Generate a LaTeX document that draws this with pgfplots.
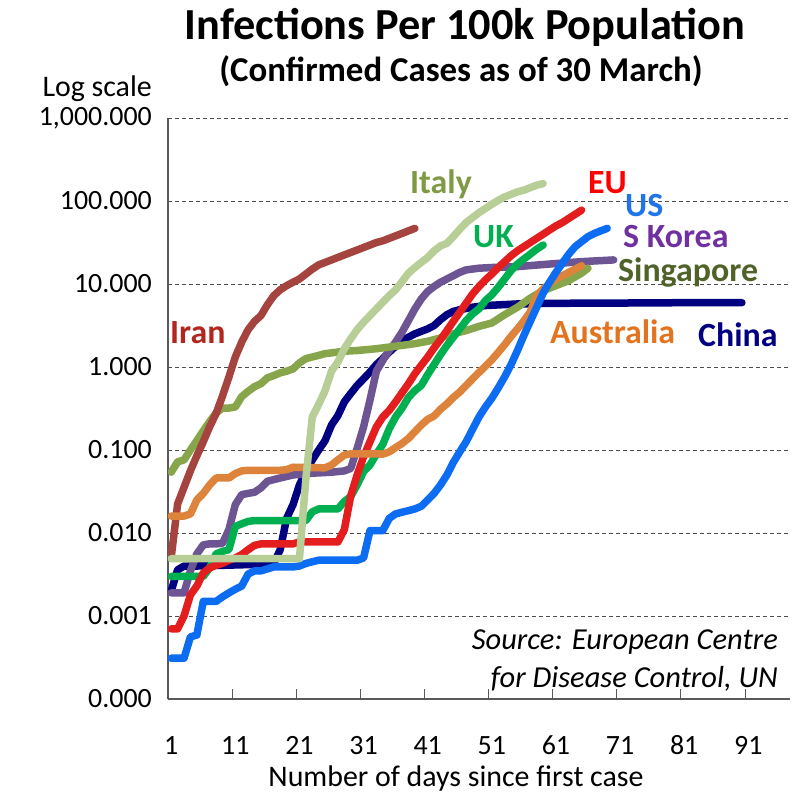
\documentclass[border=0pt]{standalone}
\usepackage{fontspec}
\setmainfont{Carlito}
\usepackage{pgfplots}
\pgfplotsset{compat=1.18}
\definecolor{cIran}{HTML}{A5443F}
\definecolor{lIran}{HTML}{B3261E}
\definecolor{cSing}{HTML}{87A64B}
\definecolor{lSing}{HTML}{4F6228}
\definecolor{cItaly}{HTML}{B7CE97}
\definecolor{lItaly}{HTML}{7E9A43}
\definecolor{cChina}{HTML}{000080}
\definecolor{cKorea}{HTML}{6D5593}
\definecolor{lKorea}{HTML}{7030A0}
\definecolor{cAus}{HTML}{DD833B}
\definecolor{lAus}{HTML}{E3731F}
\definecolor{cUK}{HTML}{00B050}
\definecolor{cEU}{HTML}{E41E1E}
\definecolor{lEU}{HTML}{FF0000}
\definecolor{cUS}{HTML}{0C6CF2}
\definecolor{lUS}{HTML}{1E74E8}
\begin{document}
\begin{tikzpicture}
\useasboundingbox (-168bp,-95bp) rectangle (624bp,699bp);
\begin{axis}[
  at={(0,0)}, anchor=south west,
  width=622bp, height=581bp, scale only axis,
  xmin=0.5, xmax=97.5,
  ymode=log, ymin=1e-4, ymax=1e3,
  axis lines*=left,
  axis line style={-, black!65, line width=1.2bp},
  xtick={1,11,...,91},
  xticklabels={1,11,21,31,41,51,61,71,81,91},
  minor xtick={10.5,20.5,...,90.5},
  tick align=inside,
  major tick length=0pt, minor tick length=10bp,
  minor tick style={black!65, line width=1bp},
  ytick={1e-4,1e-3,1e-2,1e-1,1,10,100,1000},
  yticklabels={0.000,0.001,0.010,0.100,1.000,10.000,100.000,{1,000.000}},
  yminorticks=false,
  ymajorgrids,
  major grid style={dash pattern=on 4bp off 3bp, black!70, line width=0.9bp},
  yticklabel style={font=\fontsize{28}{30}\selectfont, anchor=east, inner sep=0pt, xshift=-16bp},
  xticklabel style={font=\fontsize{28}{30}\selectfont, anchor=base, inner sep=0pt, yshift=-55bp},
  every axis plot/.append style={line width=7.5bp, line join=round, line cap=round},
]
% China
\addplot[color=cChina] coordinates {(1,0.0020)(2,0.0036)(3,0.0040)(5,0.0040)(10,0.0041)(15,0.0042)(17,0.0043)(18,0.0063)(19,0.015)(20,0.022)(21,0.038)(22,0.055)(23,0.076)(24,0.10)(25,0.13)(26,0.20)(27,0.26)(28,0.38)(29,0.48)(30,0.60)(31,0.72)(32,0.87)(33,1.07)(34,1.26)(35,1.51)(36,1.78)(37,2.04)(38,2.29)(39,2.51)(40,2.69)(41,2.88)(42,3.16)(43,3.72)(44,4.27)(45,4.68)(46,4.90)(48,5.25)(50,5.50)(55,5.75)(60,5.85)(70,5.89)(80,5.95)(90,5.96)};
% S Korea
\addplot[color=cKorea] coordinates {(1,0.0019)(2,0.0019)(3,0.0019)(4,0.0035)(5,0.0056)(6,0.0072)(7,0.0074)(8,0.0074)(9,0.0075)(10,0.011)(11,0.022)(12,0.029)(13,0.030)(14,0.031)(15,0.035)(16,0.042)(17,0.044)(18,0.046)(19,0.048)(20,0.050)(22,0.052)(24,0.053)(26,0.054)(28,0.056)(29,0.060)(30,0.105)(31,0.19)(32,0.40)(33,0.89)(34,1.20)(35,1.58)(36,2.00)(37,2.63)(38,3.63)(39,5.01)(40,6.61)(41,8.13)(42,9.33)(43,10.5)(44,11.5)(45,12.6)(46,13.8)(47,14.8)(49,15.5)(51,15.8)(55,16.2)(60,17.4)(65,18.6)(70,19.5)};
% Singapore
\addplot[color=cSing] coordinates {(1,0.054)(2,0.072)(3,0.076)(4,0.10)(5,0.13)(6,0.17)(7,0.22)(8,0.28)(9,0.32)(10,0.32)(11,0.33)(12,0.44)(13,0.51)(14,0.58)(15,0.63)(16,0.74)(17,0.79)(18,0.85)(19,0.89)(20,0.95)(21,1.12)(22,1.26)(23,1.32)(24,1.38)(25,1.45)(26,1.48)(28,1.55)(30,1.58)(33,1.66)(36,1.78)(39,1.91)(41,2.04)(43,2.24)(45,2.51)(47,2.75)(49,3.09)(51,3.39)(53,4.27)(55,5.25)(57,6.76)(59,8.32)(61,9.55)(63,11.0)(65,13.5)(66,15.5)};
% Iran
\addplot[color=cIran] coordinates {(1,0.0051)(2,0.0224)(3,0.0355)(4,0.0562)(5,0.0851)(6,0.126)(7,0.191)(8,0.275)(9,0.447)(10,0.759)(11,1.32)(12,2.00)(13,2.82)(14,3.55)(15,4.17)(16,5.62)(17,7.24)(18,8.51)(19,9.55)(20,10.5)(21,11.5)(22,13.2)(23,15.1)(24,17.0)(25,18.2)(26,19.5)(27,20.9)(28,22.4)(29,24.0)(30,25.7)(31,27.5)(32,29.5)(33,31.6)(34,33.1)(35,35.5)(36,38.0)(37,40.7)(38,43.7)(39,46.8)};
% UK
\addplot[color=cUK] coordinates {(1,0.0030)(6,0.0030)(7,0.0038)(8,0.0056)(9,0.0060)(10,0.0063)(11,0.012)(12,0.0129)(13,0.0138)(14,0.0141)(22,0.0141)(23,0.018)(24,0.0195)(27,0.0195)(28,0.024)(29,0.0275)(30,0.038)(31,0.055)(32,0.066)(33,0.089)(34,0.117)(35,0.18)(36,0.25)(37,0.32)(38,0.43)(39,0.52)(40,0.60)(41,0.81)(42,1.07)(43,1.41)(44,1.82)(45,2.29)(46,2.88)(47,3.63)(48,4.37)(49,5.01)(50,6.31)(51,7.41)(52,9.12)(53,11.5)(54,14.5)(55,17.4)(56,20.0)(57,22.9)(58,26.3)(59,29.5)};
% EU
\addplot[color=cEU] coordinates {(1,0.0007)(2,0.0007)(3,0.0010)(4,0.0018)(5,0.0023)(6,0.0033)(7,0.0038)(8,0.0041)(9,0.0043)(10,0.0047)(11,0.0050)(12,0.0055)(13,0.0063)(14,0.0071)(15,0.0074)(20,0.0074)(21,0.0078)(27,0.0078)(28,0.011)(29,0.028)(30,0.050)(31,0.083)(32,0.126)(33,0.19)(34,0.25)(35,0.30)(36,0.38)(37,0.49)(38,0.63)(39,0.83)(40,1.05)(41,1.32)(42,1.70)(43,2.14)(44,2.75)(45,3.55)(46,4.57)(47,5.89)(48,7.59)(49,9.33)(50,11.2)(51,13.2)(52,15.8)(53,18.6)(54,21.9)(55,25.1)(56,28.2)(57,31.6)(58,35.5)(59,39.8)(60,44.7)(61,50.1)(62,55.0)(63,61.7)(64,69.2)(65,77.6)};
% Australia
\addplot[color=cAus] coordinates {(1,0.016)(2,0.016)(3,0.016)(4,0.017)(5,0.025)(6,0.030)(7,0.038)(8,0.046)(9,0.046)(10,0.046)(11,0.052)(12,0.056)(13,0.057)(18,0.057)(19,0.058)(20,0.062)(25,0.061)(26,0.066)(27,0.076)(28,0.087)(29,0.090)(33,0.090)(34,0.089)(35,0.095)(36,0.107)(37,0.12)(38,0.138)(39,0.166)(40,0.20)(41,0.234)(42,0.257)(43,0.31)(44,0.36)(45,0.43)(46,0.50)(47,0.60)(48,0.72)(49,0.86)(50,1.02)(51,1.22)(52,1.50)(53,1.86)(54,2.34)(55,2.88)(56,3.60)(57,4.60)(58,7.24)(59,8.71)(60,10.0)(61,11.5)(62,12.6)(63,13.8)(64,15.1)(65,16.6)};
% US
\addplot[color=cUS] coordinates {(1,0.00031)(3,0.00031)(4,0.00056)(5,0.00059)(6,0.0015)(8,0.0015)(9,0.0017)(10,0.0019)(11,0.0021)(12,0.0023)(13,0.0032)(14,0.0035)(15,0.0035)(16,0.0037)(17,0.0039)(20,0.0039)(21,0.0040)(22,0.0043)(23,0.0045)(24,0.0047)(30,0.0047)(31,0.0050)(32,0.0107)(34,0.0107)(35,0.015)(36,0.017)(37,0.0178)(38,0.0186)(39,0.0195)(40,0.021)(41,0.025)(42,0.030)(43,0.038)(44,0.050)(45,0.071)(46,0.095)(47,0.126)(48,0.178)(49,0.25)(50,0.33)(51,0.42)(52,0.56)(53,0.76)(54,1.07)(55,1.58)(56,2.40)(57,3.55)(58,5.25)(59,7.76)(60,10.5)(61,13.8)(62,17.8)(63,22.9)(64,28.2)(65,32.4)(66,37.2)(67,40.7)(68,43.7)(69,46.8)};
% Italy
\addplot[color=cItaly] coordinates {(1,0.0049)(21,0.0049)(22,0.045)(23,0.25)(24,0.355)(25,0.52)(26,0.89)(27,1.15)(28,1.66)(29,2.19)(30,2.82)(31,3.47)(32,4.17)(33,5.01)(34,6.03)(35,7.24)(36,8.51)(37,10.7)(38,13.5)(39,15.8)(40,18.2)(41,20.9)(42,25.1)(43,28.8)(44,30.9)(45,37.2)(46,45.7)(47,55.0)(48,63.1)(49,72.4)(50,81.3)(51,91.2)(52,102)(53,112)(54,120)(55,129)(56,135)(57,145)(58,155)(59,162)};
\end{axis}
% titles and texts (origin = lower-left corner of plot area, 1bp = 1px)
\node[anchor=base, inner sep=0pt, font=\fontsize{44.5}{48}\selectfont\bfseries] at (297bp,659bp) {Infections Per 100k Population};
\node[anchor=base, inner sep=0pt, font=\fontsize{35}{40}\selectfont\bfseries] at (293bp,617bp) {(Confirmed Cases as of 30 March)};
\node[anchor=base east, inner sep=0pt, font=\fontsize{30}{34}\selectfont] at (-16bp,602bp) {Log scale};
\node[anchor=base, inner sep=0pt, font=\fontsize{30}{34}\selectfont] at (288bp,-87bp) {Number of days since first case};
\node[anchor=base east, inner sep=0pt, font=\fontsize{30.6}{34}\selectfont\itshape] at (610bp,49bp) {Source: European Centre};
\node[anchor=base east, inner sep=0pt, font=\fontsize{30.6}{34}\selectfont\itshape] at (610bp,12bp) {for Disease Control, UN};
% series labels
\begin{scope}[every node/.style={anchor=base west, inner sep=0pt, font=\fontsize{34}{38}\selectfont\bfseries}]
\node[text=lIran] at (2bp,355bp) {Iran};
\node[text=lItaly] at (242bp,505bp) {Italy};
\node[text=lEU] at (420bp,505bp) {EU};
\node[text=lUS] at (457bp,482bp) {US};
\node[text=cUK] at (305bp,451bp) {UK};
\node[text=lKorea] at (455bp,451bp) {S Korea};
\node[text=lSing] at (450bp,417bp) {Singapore};
\node[text=lAus] at (382bp,355bp) {Australia};
\node[text=cChina] at (530bp,352bp) {China};
\end{scope}
\end{tikzpicture}
\end{document}
